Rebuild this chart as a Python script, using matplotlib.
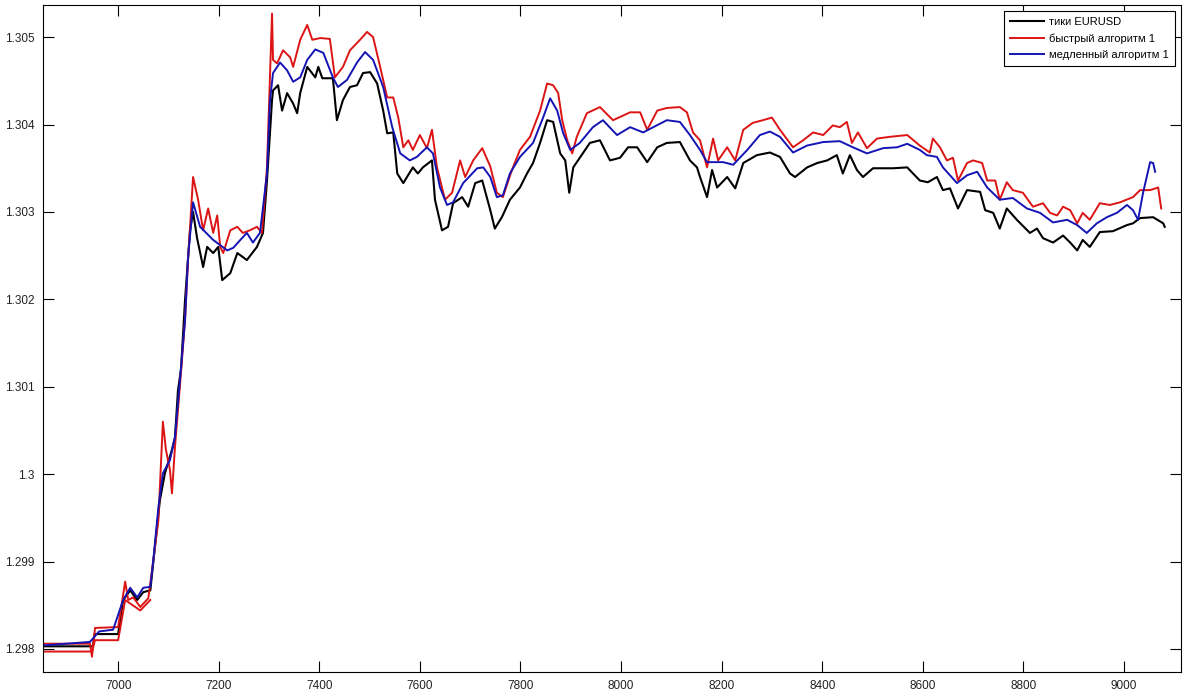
import numpy as np
import matplotlib
matplotlib.use("Agg")
import matplotlib.pyplot as plt
from matplotlib.ticker import FuncFormatter

# tick data EURUSD (black)
tick_x = [6851, 6950, 6953, 7000, 7010, 7024, 7038, 7050, 7064, 7083, 7093, 7107, 7113,
          7119, 7125, 7133, 7143, 7149, 7157, 7169, 7177, 7189, 7199, 7207, 7223, 7237,
          7256, 7276, 7288, 7296, 7306, 7308, 7318, 7326, 7336, 7348, 7356, 7362, 7376,
          7392, 7398, 7406, 7427, 7435, 7447, 7461, 7475, 7487, 7501, 7515, 7527, 7535,
          7547, 7555, 7567, 7586, 7596, 7606, 7624, 7630, 7644, 7656, 7666, 7684, 7696,
          7710, 7724, 7740, 7749, 7763, 7779, 7799, 7813, 7825, 7839, 7853, 7865, 7879,
          7889, 7897, 7905, 7918, 7938, 7958, 7978, 7998, 8014, 8032, 8052, 8072, 8091,
          8117, 8137, 8151, 8157, 8171, 8181, 8191, 8211, 8227, 8243, 8270, 8296, 8316,
          8336, 8346, 8370, 8390, 8410, 8429, 8441, 8455, 8469, 8481, 8501, 8541, 8569,
          8594, 8610, 8628, 8640, 8654, 8670, 8688, 8714, 8724, 8740, 8753, 8767, 8787,
          8813, 8827, 8839, 8859, 8879, 8893, 8907, 8918, 8932, 8952, 8978, 9006, 9018,
          9032, 9058, 9078, 9081]
tick_y = [1.29803, 1.29803, 1.29817, 1.29817, 1.29856, 1.29867, 1.29856, 1.29865, 1.29867,
          1.29970, 1.30001, 1.30028, 1.30042, 1.30096, 1.30120, 1.30199, 1.30279, 1.30300,
          1.30270, 1.30237, 1.30260, 1.30253, 1.30260, 1.30222, 1.30230, 1.30253, 1.30245,
          1.30260, 1.30276, 1.30336, 1.30428, 1.30439, 1.30445, 1.30416, 1.30436, 1.30424,
          1.30413, 1.30436, 1.30466, 1.30454, 1.30466, 1.30453, 1.30453, 1.30405, 1.30428,
          1.30443, 1.30445, 1.30459, 1.30460, 1.30447, 1.30416, 1.30390, 1.30391, 1.30344,
          1.30333, 1.30351, 1.30344, 1.30351, 1.30359, 1.30314, 1.30279, 1.30283, 1.30310,
          1.30317, 1.30306, 1.30333, 1.30336, 1.30302, 1.30281, 1.30294, 1.30314, 1.30328,
          1.30344, 1.30356, 1.30379, 1.30405, 1.30403, 1.30367, 1.30359, 1.30322, 1.30351,
          1.30362, 1.30379, 1.30382, 1.30359, 1.30362, 1.30374, 1.30374, 1.30357, 1.30374,
          1.30379, 1.30380, 1.30359, 1.30351, 1.30340, 1.30317, 1.30348, 1.30328, 1.30340,
          1.30327, 1.30356, 1.30365, 1.30368, 1.30363, 1.30344, 1.30340, 1.30351, 1.30356,
          1.30359, 1.30365, 1.30344, 1.30365, 1.30348, 1.30340, 1.30350, 1.30350, 1.30351,
          1.30336, 1.30334, 1.30340, 1.30325, 1.30327, 1.30304, 1.30325, 1.30323, 1.30302,
          1.30299, 1.30281, 1.30304, 1.30291, 1.30276, 1.30281, 1.30270, 1.30265, 1.30273,
          1.30265, 1.30256, 1.30268, 1.30260, 1.30277, 1.30278, 1.30285, 1.30287, 1.30293,
          1.30294, 1.30287, 1.30283]

# fast algorithm (red)
fast_x = [6851, 6944, 6948, 6954, 7000, 7014, 7020, 7030, 7044, 7060, 7070, 7080, 7089,
          7095, 7103, 7107, 7113, 7123, 7133, 7139, 7149, 7159, 7169, 7179, 7189, 7197,
          7203, 7209, 7223, 7237, 7248, 7262, 7276, 7286, 7296, 7304, 7306, 7308, 7316,
          7328, 7342, 7348, 7362, 7376, 7386, 7402, 7421, 7431, 7447, 7461, 7481, 7495,
          7507, 7521, 7535, 7547, 7557, 7567, 7577, 7586, 7600, 7614, 7624, 7634, 7650,
          7664, 7680, 7690, 7706, 7724, 7740, 7753, 7765, 7783, 7799, 7819, 7839, 7853,
          7865, 7875, 7883, 7893, 7903, 7912, 7932, 7958, 7984, 8018, 8038, 8052, 8072,
          8091, 8117, 8131, 8143, 8157, 8171, 8183, 8193, 8211, 8227, 8243, 8262, 8282,
          8300, 8316, 8342, 8362, 8382, 8402, 8421, 8435, 8449, 8459, 8471, 8489, 8509,
          8535, 8569, 8594, 8614, 8620, 8634, 8648, 8660, 8670, 8688, 8700, 8718, 8728,
          8744, 8753, 8767, 8779, 8799, 8819, 8839, 8853, 8867, 8879, 8893, 8907, 8918,
          8932, 8952, 8972, 8992, 9018, 9032, 9052, 9068, 9074]
fast_y = [1.29806, 1.29806, 1.29791, 1.29824, 1.29825, 1.29877, 1.29856, 1.29859, 1.29848,
          1.29858, 1.29902, 1.29947, 1.30060, 1.30028, 1.30005, 1.29978, 1.30031, 1.30102,
          1.30176, 1.30245, 1.30340, 1.30314, 1.30279, 1.30304, 1.30276, 1.30296, 1.30260,
          1.30253, 1.30279, 1.30283, 1.30276, 1.30279, 1.30283, 1.30276, 1.30351, 1.30493,
          1.30527, 1.30474, 1.30470, 1.30485, 1.30477, 1.30466, 1.30497, 1.30514, 1.30497,
          1.30499, 1.30498, 1.30454, 1.30466, 1.30485, 1.30497, 1.30506, 1.30500, 1.30466,
          1.30431, 1.30431, 1.30408, 1.30374, 1.30382, 1.30371, 1.30388, 1.30373, 1.30394,
          1.30351, 1.30314, 1.30322, 1.30359, 1.30340, 1.30359, 1.30373, 1.30352, 1.30322,
          1.30317, 1.30348, 1.30371, 1.30386, 1.30416, 1.30447, 1.30445, 1.30436, 1.30405,
          1.30382, 1.30367, 1.30386, 1.30413, 1.30420, 1.30405, 1.30414, 1.30414, 1.30394,
          1.30416, 1.30419, 1.30420, 1.30414, 1.30391, 1.30382, 1.30351, 1.30384, 1.30359,
          1.30374, 1.30359, 1.30394, 1.30402, 1.30405, 1.30408, 1.30394, 1.30374, 1.30382,
          1.30391, 1.30388, 1.30399, 1.30397, 1.30403, 1.30379, 1.30391, 1.30373, 1.30384,
          1.30386, 1.30388, 1.30376, 1.30368, 1.30384, 1.30374, 1.30359, 1.30362, 1.30336,
          1.30356, 1.30359, 1.30356, 1.30336, 1.30336, 1.30314, 1.30334, 1.30325, 1.30322,
          1.30306, 1.30310, 1.30299, 1.30296, 1.30306, 1.30302, 1.30287, 1.30299, 1.30291,
          1.30310, 1.30308, 1.30311, 1.30317, 1.30325, 1.30325, 1.30328, 1.30304]
# lower red trace at the very start
fast_low_x = [6851, 6948, 6954, 7000, 7014, 7044, 7064]
fast_low_y = [1.29797, 1.29797, 1.29810, 1.29810, 1.29856, 1.29844, 1.29856]

# slow algorithm (blue)
slow_x = [6851, 6944, 6962, 6990, 7010, 7024, 7038, 7050, 7064, 7070, 7080, 7089, 7103,
          7113, 7123, 7133, 7139, 7149, 7163, 7189, 7217, 7229, 7243, 7256, 7268, 7282,
          7296, 7302, 7308, 7322, 7336, 7348, 7362, 7376, 7392, 7408, 7427, 7437, 7455,
          7475, 7491, 7507, 7527, 7545, 7561, 7580, 7594, 7614, 7626, 7640, 7654, 7666,
          7686, 7714, 7726, 7740, 7753, 7765, 7779, 7799, 7825, 7845, 7859, 7873, 7885,
          7899, 7918, 7944, 7964, 7992, 8018, 8044, 8064, 8091, 8117, 8137, 8157, 8171,
          8203, 8223, 8251, 8276, 8296, 8316, 8342, 8370, 8402, 8435, 8461, 8489, 8521,
          8549, 8569, 8594, 8608, 8628, 8640, 8668, 8688, 8708, 8728, 8753, 8779, 8807,
          8833, 8859, 8887, 8907, 8926, 8946, 8966, 8986, 9006, 9018, 9028, 9038, 9052,
          9058, 9062]
slow_y = [1.29804, 1.29808, 1.29820, 1.29822, 1.29856, 1.29870, 1.29859, 1.29870, 1.29871,
          1.29902, 1.29962, 1.30001, 1.30016, 1.30042, 1.30108, 1.30176, 1.30248, 1.30311,
          1.30283, 1.30268, 1.30256, 1.30259, 1.30268, 1.30276, 1.30265, 1.30276, 1.30344,
          1.30428, 1.30459, 1.30471, 1.30462, 1.30449, 1.30454, 1.30474, 1.30486, 1.30482,
          1.30454, 1.30443, 1.30451, 1.30471, 1.30483, 1.30474, 1.30443, 1.30397, 1.30367,
          1.30359, 1.30363, 1.30374, 1.30367, 1.30328, 1.30308, 1.30311, 1.30333, 1.30350,
          1.30351, 1.30340, 1.30317, 1.30319, 1.30344, 1.30363, 1.30379, 1.30408, 1.30430,
          1.30416, 1.30390, 1.30371, 1.30379, 1.30397, 1.30405, 1.30388, 1.30397, 1.30391,
          1.30397, 1.30405, 1.30403, 1.30388, 1.30371, 1.30357, 1.30357, 1.30354, 1.30371,
          1.30388, 1.30392, 1.30386, 1.30368, 1.30376, 1.30380, 1.30381, 1.30374, 1.30367,
          1.30373, 1.30374, 1.30378, 1.30371, 1.30365, 1.30363, 1.30351, 1.30333, 1.30342,
          1.30346, 1.30328, 1.30314, 1.30316, 1.30304, 1.30299, 1.30288, 1.30291, 1.30285,
          1.30276, 1.30287, 1.30294, 1.30299, 1.30308, 1.30302, 1.30291, 1.30322, 1.30357,
          1.30356, 1.30346]

labels = ["тики EURUSD", "быстрый алгоритм 1", "медленный алгоритм 1"]
x_ticks = np.arange(7000, 9001, 200)
y_ticks = [1.298, 1.299, 1.300, 1.301, 1.302, 1.303, 1.304, 1.305]

plt.rcParams['font.family'] = ['Liberation Sans', 'DejaVu Sans']

fig = plt.figure(figsize=(12, 6.91), dpi=100)
ax = fig.add_axes([0.036, 0.028, 0.948, 0.965])

red = '#dc1414'
blue = '#1414b4'
ax.plot(tick_x, tick_y, color='k', lw=1.5, label=labels[0])
ax.plot(fast_x, fast_y, color=red, lw=1.4, label=labels[1])
ax.plot(fast_low_x, fast_low_y, color=red, lw=1.4)
ax.plot(slow_x, slow_y, color=blue, lw=1.4, label=labels[2])

ax.set_xlim(6851, 9113)
ax.set_ylim(1.29774, 1.30537)
ax.set_xticks(x_ticks)
ax.set_yticks(y_ticks)
ax.yaxis.set_major_formatter(FuncFormatter(lambda v, p: '%g' % round(v, 6)))
ax.tick_params(direction='in', length=8, width=0.8, top=True, right=True,
               labelsize=8.5, labelcolor='#222222', pad=6)
for s in ax.spines.values():
    s.set_linewidth(0.8)

leg = ax.legend(loc='upper right', fontsize=8, fancybox=False, framealpha=1,
                edgecolor='k', borderaxespad=0.55, handlelength=3.0,
                handletextpad=0.45, labelspacing=0.55, borderpad=0.55)
leg.get_frame().set_linewidth(0.8)

fig.savefig('out.png', dpi=100)
